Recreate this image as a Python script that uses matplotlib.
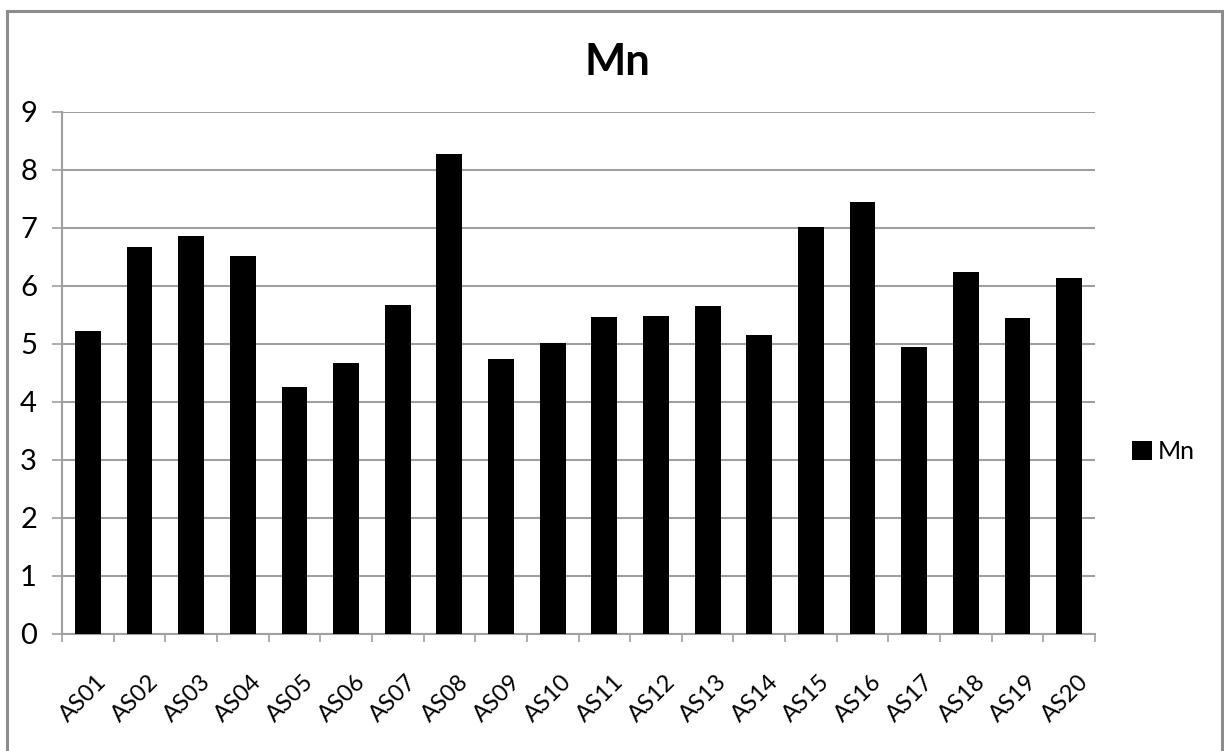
import matplotlib.pyplot as plt
from matplotlib.patches import Patch, Rectangle
from matplotlib.transforms import ScaledTranslation

plt.rcParams['font.family'] = ['Lato', 'DejaVu Sans']

samples = ['AS01', 'AS02', 'AS03', 'AS04', 'AS05', 'AS06', 'AS07', 'AS08', 'AS09', 'AS10',
           'AS11', 'AS12', 'AS13', 'AS14', 'AS15', 'AS16', 'AS17', 'AS18', 'AS19', 'AS20']
mn = [5.22, 6.68, 6.86, 6.52, 4.26, 4.68, 5.68, 8.28, 4.74, 5.02,
      5.46, 5.48, 5.66, 5.16, 7.02, 7.44, 4.94, 6.24, 5.45, 6.13]
y_ticks = [0, 1, 2, 3, 4, 5, 6, 7, 8, 9]

grey = '#a0a0a0'

fig = plt.figure(figsize=(12.24, 7.51), dpi=100)
ax = fig.add_axes([62 / 1224, 1 - 634 / 751, (1095 - 62) / 1224, (634 - 112) / 751])

x = list(range(len(samples)))
ax.bar(x, mn, width=0.5, color='black', zorder=3)

ax.set_xlim(-0.5, len(samples) - 0.5)
ax.set_ylim(0, 9)
ax.set_yticks(y_ticks)
ax.yaxis.grid(True, color=grey, linewidth=1.5, zorder=0)

# category boundaries get the tick marks, centres get the labels
ax.set_xticks([i - 0.5 for i in range(len(samples) + 1)])
ax.set_xticklabels([])
ax.set_xticks(x, minor=True)
ax.set_xticklabels(samples, minor=True, rotation=45, ha='right',
                   rotation_mode='anchor', fontsize=17)
ax.tick_params(axis='x', which='major', length=6, width=1.2, color=grey)
ax.tick_params(axis='x', which='minor', length=0, pad=27)
ax.tick_params(axis='y', length=7, width=1.2, color=grey, labelsize=21, pad=11)

shift = ScaledTranslation(6 / 72, 0, fig.dpi_scale_trans)
for lab in ax.get_xticklabels(minor=True):
    lab.set_transform(lab.get_transform() + shift)

for side in ['top', 'right']:
    ax.spines[side].set_visible(False)
for side in ['left', 'bottom']:
    ax.spines[side].set_color(grey)
    ax.spines[side].set_linewidth(1.5)

fig.text(617 / 1224, 1 - 62 / 751, 'Mn', ha='center', va='center',
         fontsize=31.5, fontweight='bold')

fig.legend(handles=[Patch(facecolor='black', label='Mn')], loc='center left',
           bbox_to_anchor=(1132 / 1224, 1 - 452 / 751), frameon=False,
           fontsize=18, handlelength=0.8, handleheight=0.8, handletextpad=0.25,
           borderaxespad=0, borderpad=0)

# chart frame
fig.add_artist(Rectangle((7 / 1224, -0.05), (1222 - 7) / 1224, 1.05 - 11 / 751,
                         transform=fig.transFigure, fill=False,
                         edgecolor='#8c8c8c', linewidth=2.2))

fig.savefig('out.png', dpi=100)
